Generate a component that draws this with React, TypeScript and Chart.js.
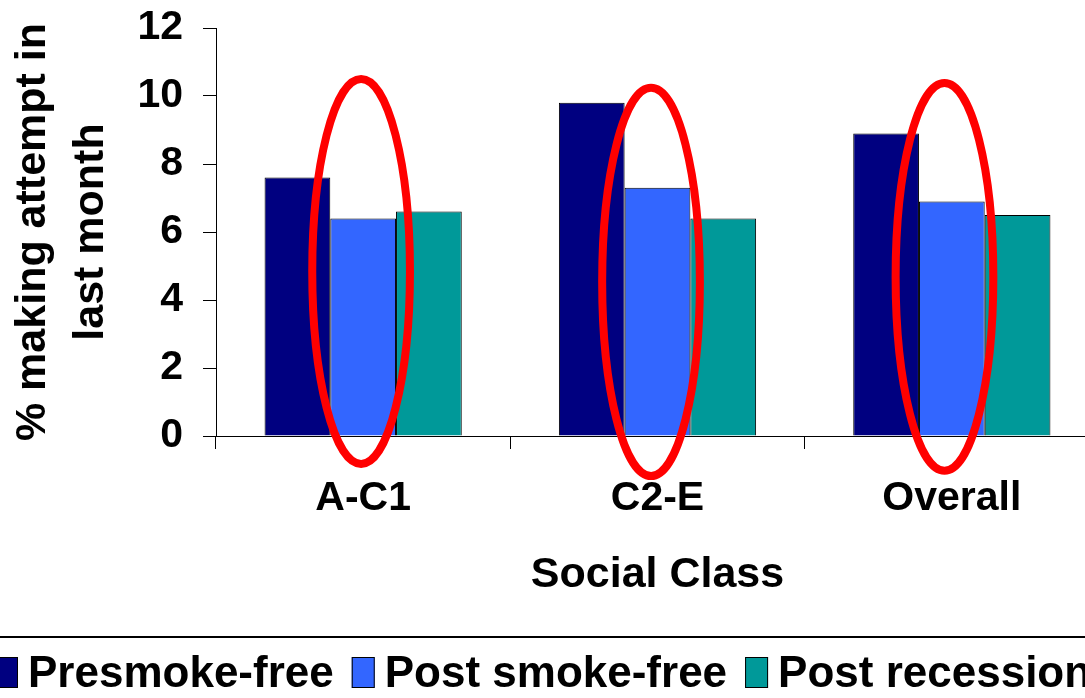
import { useEffect, useRef } from "react";
import { Chart, registerables } from "chart.js";

Chart.register(...registerables);

const FONT = '"Liberation Sans", Arial, Helvetica, sans-serif';

// Quit-attempt rates by social class, three survey periods
const categories = ["A-C1", "C2-E", "Overall"];
const seriesNames = ["Presmoke-free", "Post smoke-free", "Post recession"];
const presmokeFree = [7.6, 9.8, 8.9];
const postSmokeFree = [6.4, 7.3, 6.9];
const postRecession = [6.6, 6.4, 6.5];
const seriesColors = ["#000080", "#3366FF", "#009999"];
const yTicks = [0, 2, 4, 6, 8, 10, 12];

// Red rings drawn around the post smoke-free bars:
// category position, centre value and half height (value units)
const ringCategory = [-0.007, 0.978, 1.975];
const ringCentre = [4.84, 4.53, 4.68];
const ringHalfHeight = [5.66, 5.71, 5.7];
const ringHalfWidth = 0.166; // category units

const ringPlugin = {
  id: "rings",
  afterDatasetsDraw(chart: any) {
    const { ctx, scales } = chart;
    const xs = scales.x;
    const ys = scales.y;
    ctx.save();
    ctx.strokeStyle = "#FF0000";
    ctx.lineWidth = 8;
    ringCategory.forEach((c, i) => {
      const cx = xs.getPixelForValue(c);
      const rx = Math.abs(xs.getPixelForValue(c + ringHalfWidth) - cx);
      const cy = ys.getPixelForValue(ringCentre[i]);
      const ry = Math.abs(ys.getPixelForValue(ringCentre[i] + ringHalfHeight[i]) - cy);
      ctx.beginPath();
      ctx.ellipse(cx, cy, rx, ry, 0, 0, Math.PI * 2);
      ctx.stroke();
    });
    ctx.restore();
  },
};

// Legend row along the bottom, under a rule line
const legendPlugin = {
  id: "bottomLegend",
  afterDraw(chart: any) {
    const { ctx } = chart;
    ctx.save();
    ctx.strokeStyle = "#000";
    ctx.lineWidth = 2;
    ctx.beginPath();
    ctx.moveTo(0, 637);
    ctx.lineTo(chart.width, 637);
    ctx.stroke();

    ctx.font = `bold 44px ${FONT}`;
    ctx.textBaseline = "alphabetic";
    ctx.textAlign = "left";
    let x = -5;
    chart.data.datasets.forEach((ds: any) => {
      ctx.fillStyle = ds.backgroundColor;
      ctx.fillRect(x, 657, 23, 31);
      ctx.lineWidth = 1;
      ctx.strokeStyle = "#000";
      ctx.strokeRect(x + 0.5, 657.5, 22, 30);
      x += 33;
      ctx.fillStyle = "#000";
      ctx.fillText(ds.label, x, 687);
      x += ctx.measureText(ds.label).width + 18;
    });
    ctx.restore();
  },
};

export default function App() {
  const ref = useRef<HTMLCanvasElement>(null);

  useEffect(() => {
    const values = [presmokeFree, postSmokeFree, postRecession];
    const tickFont = { family: FONT, size: 41, weight: "bold" as const };
    const titleFont = { family: FONT, size: 43, weight: "bold" as const, lineHeight: 1.35 };

    const chart = new Chart(ref.current!, {
      type: "bar",
      data: {
        labels: categories,
        datasets: values.map((v, i) => ({
          label: seriesNames[i],
          data: v,
          backgroundColor: seriesColors[i],
          borderColor: "#000",
          borderWidth: 1,
          categoryPercentage: 0.67,
          barPercentage: 1,
        })),
      },
      options: {
        responsive: false,
        animation: false,
        devicePixelRatio: 1,
        layout: { padding: { top: 28, right: 1, bottom: 92, left: 0 } },
        plugins: { legend: { display: false }, tooltip: { enabled: false } },
        scales: {
          x: {
            offset: true,
            grid: {
              offset: true,
              drawOnChartArea: false,
              drawTicks: true,
              tickLength: 13,
              color: "#000",
              lineWidth: 1,
            },
            border: { color: "#000", width: 1 },
            ticks: { color: "#000", padding: 25, font: tickFont, maxRotation: 0 },
            title: {
              display: true,
              text: "Social Class",
              color: "#000",
              font: { family: FONT, size: 43, weight: "bold" },
              padding: { top: 0, bottom: 5 },
            },
            afterFit: (s: any) => {
              s.height = 170;
              s.paddingLeft = 0;
              s.paddingRight = 0;
            },
          },
          y: {
            min: 0,
            max: 12,
            grid: {
              drawOnChartArea: false,
              drawTicks: true,
              tickLength: 13,
              color: "#000",
              lineWidth: 1,
            },
            border: { color: "#000", width: 1 },
            ticks: { color: "#000", padding: 20, font: tickFont },
            afterBuildTicks: (s: any) => {
              s.ticks = yTicks.map((v) => ({ value: v }));
            },
            title: {
              display: true,
              text: ["% making attempt in", "last month"],
              color: "#000",
              font: titleFont,
              padding: { top: 4, bottom: 0 },
            },
            afterFit: (s: any) => {
              s.width = 216;
              s.paddingTop = 0;
              s.paddingBottom = 0;
            },
          },
        },
      },
      plugins: [ringPlugin, legendPlugin],
    });
    return () => chart.destroy();
  }, []);

  return (
    <div
      style={{
        position: "fixed",
        left: 0,
        top: 0,
        width: 1085,
        height: 698,
        overflow: "hidden",
        background: "#fff",
      }}
    >
      <canvas ref={ref} width={1100} height={698} style={{ display: "block" }} />
    </div>
  );
}
